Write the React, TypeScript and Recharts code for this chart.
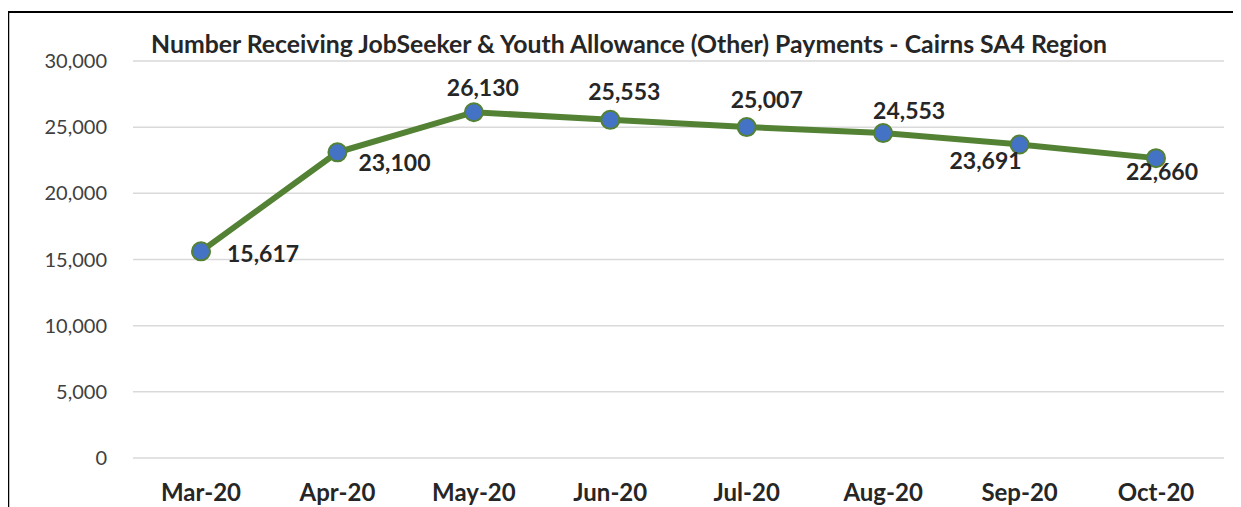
import React from 'react';
import { LineChart, Line, XAxis, YAxis, CartesianGrid, LabelList } from 'recharts';

const months = ['Mar-20', 'Apr-20', 'May-20', 'Jun-20', 'Jul-20', 'Aug-20', 'Sep-20', 'Oct-20'];
const recipients = [15617, 23100, 26130, 25553, 25007, 24553, 23691, 22660];
const yTicks = [0, 5000, 10000, 15000, 20000, 25000, 30000];
const chartTitle = 'Number Receiving JobSeeker & Youth Allowance (Other) Payments - Cairns SA4 Region';
const pageHeading = 'Number Receiving JobSeeker & Youth Allowance (Other) Payments, Cairns SA4 Region';

// label placement relative to each point (style config)
const labelPlacement = [
  { dx: 26, dy: 2, anchor: 'start' },
  { dx: 21, dy: 10, anchor: 'start' },
  { dx: 9, dy: -25, anchor: 'middle' },
  { dx: 14, dy: -29, anchor: 'middle' },
  { dx: 20, dy: -28, anchor: 'middle' },
  { dx: 26, dy: -23, anchor: 'middle' },
  { dx: -34, dy: 16, anchor: 'middle' },
  { dx: 6, dy: 13, anchor: 'middle' },
];

const data = months.map((m, i) => ({ month: m, value: recipients[i] }));

const FONT = 'Lato, "Open Sans", sans-serif';
const GREEN = '#548235';
const BLUE = '#4472C4';

const fmt = (v: number) => v.toLocaleString('en-US');

const DataLabel = (props: any) => {
  const { x, y, value, index } = props;
  const p = labelPlacement[index];
  return (
    <text
      x={x + p.dx}
      y={y + p.dy}
      textAnchor={p.anchor}
      dominantBaseline="central"
      fontFamily={FONT}
      fontWeight={700}
      fontSize={23}
      fill="#262626"
    >
      {fmt(value)}
    </text>
  );
};

export default function App() {
  return (
    <div style={{ position: 'relative', width: 1233, height: 499, background: '#fff' }}>
      <svg
        width={1233}
        height={499}
        style={{ position: 'absolute', left: 0, top: 0, overflow: 'visible', pointerEvents: 'none' }}
      >
        <text x={612} y={-9} textAnchor="middle" fontFamily="Arial, sans-serif" fontWeight={700} fontSize={24} fill="#000">
          {pageHeading}
        </text>
        <line x1={0} y1={4} x2={1240} y2={4} stroke="#000" strokeWidth={2} />
        <line x1={0} y1={4} x2={0} y2={510} stroke="#000" strokeWidth={2.5} />
        <text x={621} y={35} textAnchor="middle" dominantBaseline="central" fontFamily={FONT} fontWeight={700} fontSize={24.8} fill="#262626">
          {chartTitle}
        </text>
      </svg>
      <div style={{ position: 'absolute', left: 0, top: 0 }}>
        <LineChart width={1233} height={499} data={data} margin={{ top: 53, right: 17, bottom: 0, left: 0 }}>
          <CartesianGrid horizontal vertical={false} stroke="#D9D9D9" strokeWidth={1.5} />
          <XAxis
            dataKey="month"
            axisLine={false}
            tickLine={false}
            tickSize={0}
            tickMargin={26}
            height={49}
            padding={{ left: 68, right: 68 }}
            tick={{ fontFamily: FONT, fontWeight: 700, fontSize: 24, fill: '#262626' }}
            interval={0}
          />
          <YAxis
            domain={[0, 30000]}
            ticks={yTicks}
            axisLine={false}
            tickLine={false}
            tickSize={0}
            tickMargin={26}
            width={125}
            tickFormatter={fmt}
            tick={{ fontFamily: FONT, fontSize: 20, fill: '#404040' }}
          />
          <Line
            type="linear"
            dataKey="value"
            stroke={GREEN}
            strokeWidth={6}
            dot={{ r: 9, fill: BLUE, stroke: GREEN, strokeWidth: 2 }}
            activeDot={false}
            isAnimationActive={false}
          >
            <LabelList dataKey="value" content={DataLabel} />
          </Line>
        </LineChart>
      </div>
    </div>
  );
}
